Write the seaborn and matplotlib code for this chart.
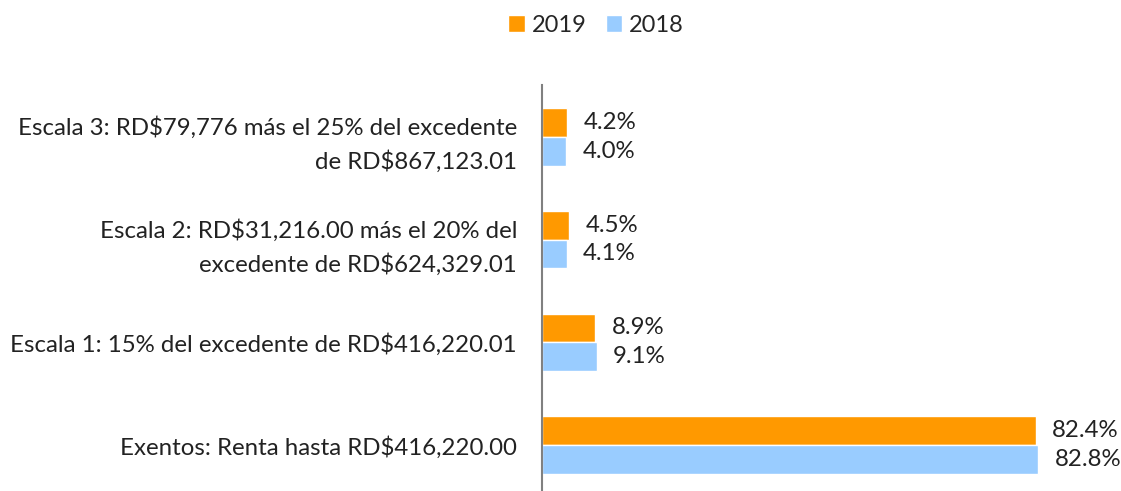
import matplotlib
matplotlib.use("Agg")
import matplotlib.pyplot as plt
import seaborn as sns
import pandas as pd

categories = [
    "Escala 3: RD$79,776 más el 25% del excedente\nde RD$867,123.01",
    "Escala 2: RD$31,216.00 más el 20% del\nexcedente de RD$624,329.01",
    "Escala 1: 15% del excedente de RD$416,220.01",
    "Exentos: Renta hasta RD$416,220.00",
]
values_2019 = [4.2, 4.5, 8.9, 82.4]
values_2018 = [4.0, 4.1, 9.1, 82.8]
years = ["2019", "2018"]
colors = ["#FF9900", "#99CCFF"]

df = pd.DataFrame({
    "cat": categories * 2,
    "year": ["2019"] * 4 + ["2018"] * 4,
    "val": values_2019 + values_2018,
})

sns.set_theme(style="white")
plt.rcParams["font.family"] = ["Lato", "DejaVu Sans"]

fig = plt.figure(figsize=(11.21, 4.91), dpi=100)
W, H = 1121, 491
ax = fig.add_axes([542 / W, 0, (W - 542) / W, (491 - 85) / H])

sns.barplot(data=df, y="cat", x="val", hue="year", hue_order=years,
            order=categories, palette=colors, orient="h", width=0.56,
            ax=ax, saturation=1, legend=True)

ax.set_xlim(0, (W - 542) / 5.99)
ax.set_ylim(3.447, -0.505)
for s in ["top", "right", "bottom"]:
    ax.spines[s].set_visible(False)
ax.spines["left"].set_color("#808080")
ax.spines["left"].set_linewidth(1.5)
ax.set_xticks([])
ax.set_xlabel("")
ax.set_ylabel("")
ax.tick_params(axis="y", length=0, pad=18, labelsize=17.3, labelcolor="#222222")
for lbl in ax.get_yticklabels():
    lbl.set_horizontalalignment("right")
    lbl.set_linespacing(1.6)

for cont in ax.containers:
    ax.bar_label(cont, labels=[f"{v:.1f}%" for v in cont.datavalues],
                 padding=12, fontsize=17.3, color="#222222")

h, l = ax.get_legend_handles_labels()
ax.legend_.remove()
fig.legend(h, l, loc="center", bbox_to_anchor=(596 / W, 1 - 25 / H), ncol=2,
           frameon=False, fontsize=17, handlelength=0.7, handleheight=0.7,
           handletextpad=0.3, columnspacing=0.8)

fig.savefig("out.png", dpi=100)
